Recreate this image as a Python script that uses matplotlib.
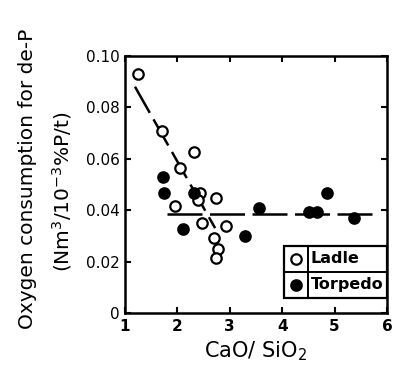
import matplotlib
matplotlib.use("Agg")
import matplotlib.pyplot as plt
from matplotlib.patches import Rectangle
from matplotlib.lines import Line2D

plt.rcParams['font.family'] = ['DejaVu Sans']

ladle_x = [1.25, 1.70, 2.32, 2.05, 1.95, 2.43, 2.39, 2.74, 2.46, 2.93, 2.70, 2.78, 2.74]
ladle_y = [0.0929, 0.0709, 0.0625, 0.0563, 0.0418, 0.0466, 0.0440, 0.0449, 0.0351, 0.0340, 0.0291, 0.0249, 0.0215]
torpedo_x = [1.73, 1.75, 2.32, 2.11, 3.29, 3.56, 4.52, 4.66, 4.86, 5.37]
torpedo_y = [0.0530, 0.0468, 0.0468, 0.0327, 0.0300, 0.0407, 0.0394, 0.0394, 0.0468, 0.0368]
slope_x = [1.19, 2.72]
slope_y = [0.088, 0.033]
flat_x = [1.80, 5.83]
flat_y = [0.0385, 0.0385]
xticks = [1, 2, 3, 4, 5, 6]
yticks = [0, 0.02, 0.04, 0.06, 0.08, 0.10]
ytick_labels = ["0", "0.02", "0.04", "0.06", "0.08", "0.10"]

fig = plt.figure(figsize=(4.06, 3.70), dpi=100)
ax = fig.add_axes([0.308, 0.154, 0.645, 0.695])

ax.plot(slope_x, slope_y, color='black', lw=1.8, dashes=(12, 3), zorder=1)
ax.plot(flat_x, flat_y, color='black', lw=1.8, dashes=(14, 3), zorder=1)
ax.plot(ladle_x, ladle_y, 'o', ms=7.5, mfc='white', mec='black', mew=1.6, ls='none', zorder=3)
ax.plot(torpedo_x, torpedo_y, 'o', ms=7.5, mfc='black', mec='black', mew=1.6, ls='none', zorder=3)

ax.set_xlim(1, 6)
ax.set_ylim(0, 0.10)
ax.set_xticks(xticks)
ax.set_xticklabels([str(t) for t in xticks], fontsize=11, fontweight='bold')
ax.set_yticks(yticks)
ax.set_yticklabels(ytick_labels, fontsize=11)
ax.tick_params(direction='in', length=4, width=1.5, top=True, right=True, pad=4)
for s in ax.spines.values():
    s.set_linewidth(1.8)

ax.set_xlabel("CaO/ SiO$_2$", fontsize=15, labelpad=4)
fig.text(28 / 406, 0.516, "Oxygen consumption for de-P", rotation=90, fontsize=14.5,
         ha='center', va='center')
fig.text(62 / 406, 0.48, "(Nm$^3$/10$^{-3}$%P/t)", rotation=90, fontsize=14.5,
         ha='center', va='center')

# legend (table style)
lx0, ly0, lx1, ly1 = 0.607, 0.058, 1.0, 0.261
ax.add_patch(Rectangle((lx0, ly0), lx1 - lx0, ly1 - ly0, transform=ax.transAxes,
                       facecolor='white', edgecolor='black', lw=1.6, zorder=5))
divx = 0.698
divy = 0.16
ax.add_line(Line2D([divx, divx], [ly0, ly1], transform=ax.transAxes, color='black', lw=1.4, zorder=6))
ax.add_line(Line2D([lx0, lx1], [divy, divy], transform=ax.transAxes, color='black', lw=1.4, zorder=6))
ax.plot([(lx0 + divx) / 2], [(divy + ly1) / 2], 'o', ms=7.5, mfc='white', mec='black', mew=1.6,
        transform=ax.transAxes, zorder=7, clip_on=False)
ax.plot([(lx0 + divx) / 2], [(ly0 + divy) / 2], 'o', ms=7.5, mfc='black', mec='black', mew=1.6,
        transform=ax.transAxes, zorder=7, clip_on=False)
ax.text(divx + 0.01, (divy + ly1) / 2, "Ladle", transform=ax.transAxes, va='center', ha='left',
        fontsize=11.5, fontweight='bold', zorder=7)
ax.text(divx + 0.01, (ly0 + divy) / 2, "Torpedo", transform=ax.transAxes, va='center', ha='left',
        fontsize=11.5, fontweight='bold', zorder=7)

fig.savefig("out.png", dpi=100)
